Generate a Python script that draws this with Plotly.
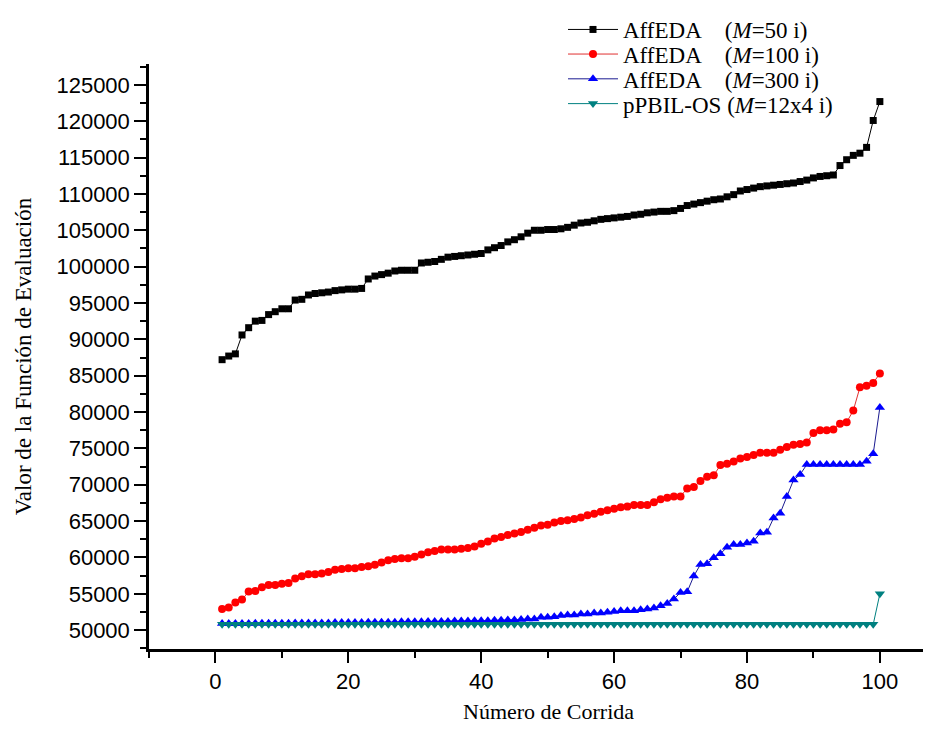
import plotly.graph_objects as go

runs = list(range(1, 101))

aff_50 = [87200, 87700, 88000, 90600, 91600, 92500, 92600, 93400, 93800, 94200,
          94200, 95400, 95500, 96100, 96300, 96400, 96500, 96700, 96800, 96900,
          96900, 97000, 98300, 98700, 98900, 99100, 99400, 99500, 99500, 99500,
          100500, 100600, 100700, 101000, 101300, 101400, 101500, 101600, 101700, 101800,
          102300, 102600, 102900, 103400, 103700, 104100, 104600, 105000, 105000, 105100,
          105100, 105200, 105400, 105700, 106000, 106100, 106300, 106500, 106600, 106700,
          106800, 106900, 107100, 107200, 107400, 107500, 107600, 107600, 107700, 108000,
          108400, 108600, 108800, 109000, 109200, 109300, 109600, 109900, 110400, 110600,
          110800, 111000, 111100, 111200, 111300, 111400, 111500, 111700, 111900, 112200,
          112400, 112500, 112600, 113900, 114700, 115300, 115600, 116400, 120100, 122700]

aff_100 = [52900, 53100, 53800, 54200, 55300, 55400, 55900, 56200, 56200, 56400,
           56500, 57100, 57400, 57700, 57700, 57800, 58000, 58300, 58400, 58500,
           58500, 58700, 58800, 59000, 59300, 59600, 59800, 59900, 59900, 60100,
           60400, 60700, 60900, 61100, 61100, 61100, 61200, 61300, 61500, 61900,
           62200, 62600, 62800, 63100, 63300, 63500, 63800, 64100, 64400, 64500,
           64800, 65000, 65100, 65300, 65500, 65800, 66000, 66300, 66500, 66700,
           66900, 67000, 67200, 67200, 67200, 67600, 68000, 68200, 68400, 68400,
           69500, 69700, 70500, 71100, 71300, 72700, 72900, 73200, 73600, 73800,
           74100, 74400, 74400, 74400, 74800, 75200, 75500, 75600, 75800, 77100,
           77500, 77500, 77600, 78400, 78600, 80200, 83400, 83600, 84000, 85300]

aff_300 = [50900, 50900, 50900, 50900, 50900, 50950, 50950, 50950, 50950, 50950,
           50950, 51000, 51000, 51000, 51000, 51000, 51000, 51050, 51050, 51050,
           51050, 51050, 51100, 51100, 51100, 51100, 51100, 51150, 51150, 51150,
           51150, 51200, 51200, 51200, 51200, 51250, 51250, 51250, 51300, 51300,
           51300, 51350, 51350, 51400, 51400, 51450, 51540, 51540, 51770, 51770,
           51850, 52000, 52100, 52100, 52230, 52230, 52350, 52350, 52450, 52550,
           52680, 52680, 52680, 52800, 52900, 53040, 53360, 53680, 54270, 55180,
           55270, 57450, 59040, 59140, 59950, 60500, 61410, 61770, 61770, 62000,
           62230, 63360, 63450, 65410, 66090, 68370, 70640, 71410, 72770, 72770,
           72770, 72770, 72770, 72770, 72770, 72770, 72770, 73220, 74270, 80640]

pbil_os = [50800, 50800, 50800, 50800, 50800, 50800, 50800, 50800, 50800, 50800,
           50800, 50800, 50800, 50800, 50800, 50800, 50800, 50800, 50800, 50800,
           50800, 50800, 50800, 50800, 50800, 50800, 50800, 50800, 50800, 50800,
           50800, 50800, 50800, 50800, 50800, 50800, 50800, 50800, 50800, 50800,
           50800, 50800, 50800, 50800, 50800, 50800, 50800, 50800, 50800, 50800,
           50800, 50800, 50800, 50800, 50800, 50800, 50800, 50800, 50800, 50800,
           50800, 50800, 50800, 50800, 50800, 50800, 50800, 50800, 50800, 50800,
           50800, 50800, 50800, 50800, 50800, 50800, 50800, 50800, 50800, 50800,
           50800, 50800, 50800, 50800, 50800, 50800, 50800, 50800, 50800, 50800,
           50800, 50800, 50800, 50800, 50800, 50800, 50800, 50800, 50800, 55000]

series_names = [
    "AffEDA\u00a0\u00a0\u00a0\u00a0(<i>M</i>=50 i)",
    "AffEDA\u00a0\u00a0\u00a0\u00a0(<i>M</i>=100 i)",
    "AffEDA\u00a0\u00a0\u00a0\u00a0(<i>M</i>=300 i)",
    "pPBIL-OS (<i>M</i>=12x4 i)",
]
x_ticks = [0, 20, 40, 60, 80, 100]
x_title = "Número de Corrida"
y_title = "Valor de la Función de Evaluación"

W, H = 931, 729
ML, MR, MT, MB = 141, 0, 51, 88
PW, PH = W - ML - MR, H - MT - MB

styles = [
    dict(color="#000000", line="#000000", symbol="square", size=7),
    dict(color="#FF0000", line="#E03030", symbol="circle", size=8),
    dict(color="#0000FF", line="#1A1A90", symbol="triangle-up", size=9),
    dict(color="#008080", line="#008080", symbol="triangle-down", size=9),
]
legend_ids = ["legend", "legend2", "legend3", "legend4"]
legend_rows_px = [16, 41, 66, 91]

serif = "Liberation Serif, Times New Roman, serif"
sans = "Liberation Sans, Arial, sans-serif"

fig = go.Figure()
for name, ys, st, lid in zip(series_names, [aff_50, aff_100, aff_300, pbil_os], styles, legend_ids):
    fig.add_trace(go.Scatter(
        x=runs, y=ys, mode="lines+markers", name=name, legend=lid,
        line=dict(color=st["line"], width=1),
        marker=dict(symbol=st["symbol"], size=st["size"], color=st["color"],
                    line=dict(width=0)),
    ))

legend_x = (555 - ML) / PW
leg_common = dict(
    xanchor="left", yanchor="middle", bgcolor="rgba(0,0,0,0)",
    font=dict(family=serif, size=23, color="black"),
    itemwidth=50, borderwidth=0,
)
layout_legends = {}
for lid, ypx in zip(legend_ids, legend_rows_px):
    layout_legends[lid] = dict(x=legend_x, y=(H - MB - ypx) / PH, **leg_common)

fig.update_layout(
    width=W, height=H,
    margin=dict(l=ML, r=MR, t=MT, b=MB),
    paper_bgcolor="white", plot_bgcolor="white",
    showlegend=True,
    **layout_legends,
    xaxis=dict(
        range=[-10, 108.9],
        tickmode="array", tickvals=x_ticks, ticktext=[str(v) for v in x_ticks],
        showline=True, linecolor="black", linewidth=2.5,
        ticks="outside", ticklen=11, tickwidth=2, tickcolor="black",
        minor=dict(dtick=10, tick0=0, ticks="outside", ticklen=6, tickwidth=2, tickcolor="black"),
        showgrid=False, zeroline=False,
        tickfont=dict(family=sans, size=22, color="black"),
    ),
    yaxis=dict(
        range=[47409, 127866],
        tick0=50000, dtick=5000, tickformat="d",
        showline=True, linecolor="black", linewidth=2.5,
        ticks="outside", ticklen=12, tickwidth=2, tickcolor="black",
        minor=dict(dtick=2500, ticks="outside", ticklen=6, tickwidth=2, tickcolor="black"),
        showgrid=False, zeroline=False,
        tickfont=dict(family=sans, size=22, color="black"),
        title=dict(text=y_title,
                   font=dict(family=serif, size=23, color="black"), standoff=19),
    ),
    annotations=[dict(
        text=x_title, xref="paper", yref="paper",
        x=(540 - ML) / PW, y=-(704 - (H - MB)) / PH,
        xanchor="center", yanchor="middle", showarrow=False,
        font=dict(family=serif, size=22, color="black"),
    )],
)

fig.write_html("out.html")
